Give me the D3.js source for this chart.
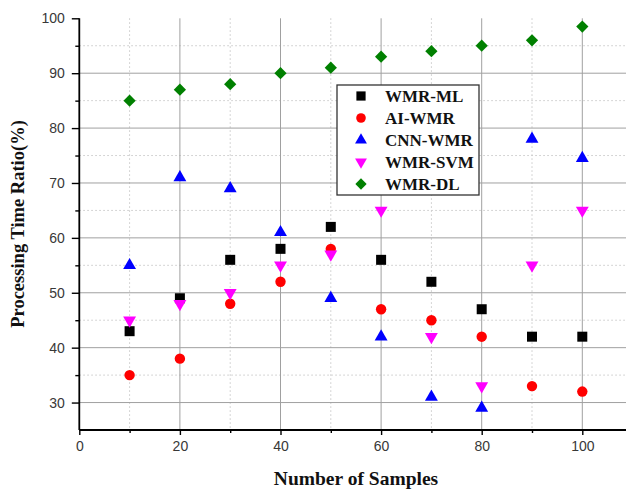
<!DOCTYPE html>
<html>
<head>
<meta charset="utf-8">
<script src="https://cdn.jsdelivr.net/npm/d3@7"></script>
<style>
  body { margin: 0; background: #fff; }
  svg { display: block; }
</style>
</head>
<body>
<div id="chart"></div>
<script>
let samples = [10, 20, 30, 40, 50, 60, 70, 80, 90, 100];
let wmrMl  = [43, 49, 56, 58, 62, 56, 52, 47, 42, 42];
let aiWmr  = [35, 38, 48, 52, 58, 47, 45, 42, 33, 32];
let cnnWmr = [55, 71, 69, 61, 49, 42, 31, 29, 78, 74.5];
let wmrSvm = [45, 48, 50, 55, 57, 65, 42, 33, 55, 65];
let wmrDl  = [85, 87, 88, 90, 91, 93, 94, 95, 96, 98.5];
let xTicks = [0, 20, 40, 60, 80, 100];
let yTicks = [30, 40, 50, 60, 70, 80, 90, 100];

let series = [
    { name: 'WMR-ML', values: wmrMl, color: '#000000', symbol: d3.symbolSquare, size: 100, rot: 0 },
    { name: 'AI-WMR', values: aiWmr, color: '#ff0000', symbol: d3.symbolCircle, size: 85, rot: 0 },
    { name: 'CNN-WMR', values: cnnWmr, color: '#0000ff', symbol: d3.symbolTriangle, size: 72, rot: 0 },
    { name: 'WMR-SVM', values: wmrSvm, color: '#ff00ff', symbol: d3.symbolTriangle, size: 72, rot: 180 },
    { name: 'WMR-DL', values: wmrDl, color: '#008000', symbol: d3.symbolSquare, size: 75, rot: 45 }
];

let width = 626, height = 492;
let svg = d3.select('#chart').append('svg')
    .attr('width', width)
    .attr('height', height);

let x = d3.scaleLinear().domain([0, 100]).range([79.3, 582.3]);
let y = d3.scaleLinear().domain([25, 100]).range([430, 18.3]);
let xEnd = 626;

// grid
let grid = svg.append('g');
grid.selectAll('.vmin')
    .data([10, 30, 50, 70, 90])
    .enter().append('line')
    .attr('x1', d => x(d)).attr('x2', d => x(d))
    .attr('y1', y(100)).attr('y2', y(25))
    .attr('stroke', '#c8c8c8').attr('stroke-dasharray', '1.5,2.5');
grid.selectAll('.hmin')
    .data([35, 45, 55, 65, 75, 85, 95])
    .enter().append('line')
    .attr('x1', x(0)).attr('x2', xEnd)
    .attr('y1', d => y(d)).attr('y2', d => y(d))
    .attr('stroke', '#c8c8c8').attr('stroke-dasharray', '1.5,2.5');
grid.selectAll('.vmaj')
    .data([20, 40, 60, 80, 100])
    .enter().append('line')
    .attr('x1', d => x(d)).attr('x2', d => x(d))
    .attr('y1', y(100)).attr('y2', y(25))
    .attr('stroke', '#a0a0a0');
grid.selectAll('.hmaj')
    .data([30, 40, 50, 60, 70, 80, 90])
    .enter().append('line')
    .attr('x1', x(0)).attr('x2', xEnd)
    .attr('y1', d => y(d)).attr('y2', d => y(d))
    .attr('stroke', '#a0a0a0');

// axes
let xAxis = svg.append('g')
    .attr('transform', 'translate(0,' + y(25) + ')')
    .call(d3.axisBottom(x).tickValues(xTicks).tickSize(5).tickPadding(6));
let xMinor = svg.append('g')
    .attr('transform', 'translate(0,' + y(25) + ')')
    .call(d3.axisBottom(x).tickValues([10, 30, 50, 70, 90]).tickSize(3).tickFormat(''));
xMinor.select('.domain').remove();
xAxis.select('.domain').attr('d', 'M' + x(0) + ',0H' + xEnd);

let yAxis = svg.append('g')
    .attr('transform', 'translate(' + x(0) + ',0)')
    .call(d3.axisLeft(y).tickValues(yTicks).tickSize(7.5).tickPadding(7));
let yMinor = svg.append('g')
    .attr('transform', 'translate(' + x(0) + ',0)')
    .call(d3.axisLeft(y).tickValues([35, 45, 55, 65, 75, 85, 95]).tickSize(4).tickFormat(''));
yMinor.select('.domain').remove();
yAxis.select('.domain').attr('d', 'M0,' + y(100) + 'V' + y(25));

svg.selectAll('.domain').attr('stroke', '#000').attr('stroke-width', 1.8);
svg.selectAll('.tick line').attr('stroke', '#000').attr('stroke-width', 1.4);
svg.selectAll('.tick text')
    .attr('fill', '#383838')
    .style('font-family', 'Liberation Sans, Arial, sans-serif')
    .style('font-size', '14px');

// points
series.forEach(function(s) {
    svg.append('g').selectAll('path')
        .data(s.values)
        .enter().append('path')
        .attr('d', d3.symbol().type(s.symbol).size(s.size))
        .attr('transform', (d, i) => 'translate(' + x(samples[i]) + ',' + y(d) + ') rotate(' + s.rot + ')')
        .attr('fill', s.color);
});

// legend
let legend = svg.append('g').attr('transform', 'translate(337,85)');
legend.append('rect')
    .attr('width', 142).attr('height', 110)
    .attr('fill', '#fff').attr('stroke', '#333').attr('stroke-width', 1.3);
series.forEach(function(s, i) {
    let row = legend.append('g').attr('transform', 'translate(0,' + (11 + i * 22) + ')');
    row.append('path')
        .attr('d', d3.symbol().type(s.symbol).size(s.size * 0.85))
        .attr('transform', 'translate(24,0) rotate(' + s.rot + ')')
        .attr('fill', s.color);
    row.append('text')
        .attr('x', 48).attr('y', 6)
        .text(s.name)
        .style('font-family', 'Liberation Serif, Times New Roman, serif')
        .style('font-weight', 'bold')
        .style('font-size', '17px')
        .attr('fill', '#111');
});

// axis labels
svg.append('text')
    .attr('x', 356).attr('y', 485)
    .attr('text-anchor', 'middle')
    .text('Number of Samples')
    .style('font-family', 'Liberation Serif, Times New Roman, serif')
    .style('font-weight', 'bold')
    .style('font-size', '19.5px')
    .attr('fill', '#111');
svg.append('text')
    .attr('transform', 'translate(24,224) rotate(-90)')
    .attr('text-anchor', 'middle')
    .text('Processing Time Ratio(%)')
    .style('font-family', 'Liberation Serif, Times New Roman, serif')
    .style('font-weight', 'bold')
    .style('font-size', '18.5px')
    .attr('fill', '#111');
</script>
</body>
</html>
